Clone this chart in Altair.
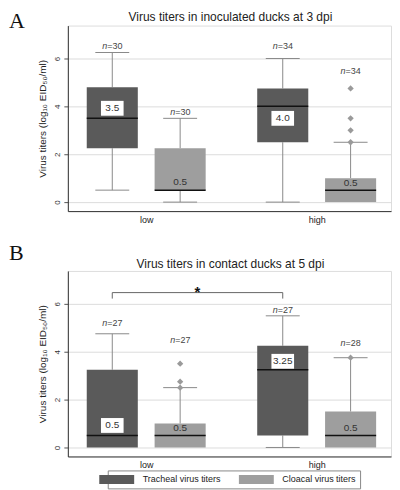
import altair as alt
import pandas as pd

# ---------------- data ----------------
GROUPS = ["low", "low", "high", "high"]
SAMPLES = ["Tracheal virus titers", "Cloacal virus titers",
           "Tracheal virus titers", "Cloacal virus titers"]

# Panel A: inoculated ducks, 3 dpi
A_LO = [0.5, 0.0, 0.0, 0.0]
A_Q1 = [2.25, 0.5, 2.5, 0.0]
A_MED = [3.5, 0.5, 4.0, 0.5]
A_Q3 = [4.8, 2.25, 4.75, 1.0]
A_HI = [6.25, 3.5, 6.0, 2.5]
A_N = [30, 30, 34, 34]
A_MED_TEXT = ["3.5", "0.5", "4.0", "0.5"]
A_OUT_IDX = [3, 3, 3, 3]
A_OUT_VAL = [2.5, 3.0, 3.5, 4.75]
A_N_AT = [6.54, 3.75, 6.54, 5.46]
A_MED_AT = [3.92, 0.83, 3.5, 0.8]

# Panel B: contact ducks, 5 dpi
B_LO = [0.0, 0.0, 0.0, 0.0]
B_Q1 = [0.0, 0.0, 0.5, 0.0]
B_MED = [0.5, 0.5, 3.25, 0.5]
B_Q3 = [3.25, 1.0, 4.25, 1.5]
B_HI = [4.75, 2.5, 5.5, 3.75]
B_N = [27, 27, 27, 28]
B_MED_TEXT = ["0.5", "0.5", "3.25", "0.5"]
B_OUT_IDX = [1, 1, 1, 3]
B_OUT_VAL = [2.5, 2.75, 3.5, 3.75]
B_N_AT = [5.22, 4.5, 5.75, 4.37]
B_MED_AT = [0.92, 0.8, 3.6, 0.83]

# significance bracket (panel B): low tracheal vs high tracheal
BRACKET_Y = 6.47
BRACKET_DROP = 0.25

# ---------------- layout constants ----------------
GROUP_X = {"low": 0.485, "high": 1.54}
SAMPLE_DX = {"Tracheal virus titers": -0.21, "Cloacal virus titers": 0.21}
BOX_HW = 0.158
CAP_HW = 0.105
LAB_HW = 0.07
LAB_HH = 0.31

DARK = "#5a5a5a"
LIGHT = "#9e9e9e"
WHISK = "#8a8a8a"
FONT = "Liberation Sans"

W, H = 324, 186
YDOM = [-0.375, 7.375]

xscale = alt.Scale(domain=[0, 2], nice=False, zero=False)
yscale = alt.Scale(domain=YDOM, nice=False, zero=False)
xaxis = alt.Axis(values=[GROUP_X["low"], GROUP_X["high"]],
                 labelExpr="datum.value < 1 ? 'low' : 'high'",
                 ticks=False, grid=False, title=None, labelFontSize=9,
                 labelPadding=4, domainColor="#333", labelColor="#222",
                 labelFont=FONT)
yaxis = alt.Axis(values=[0, 2, 4, 6], title="Virus titers (log₁₀ EID₅₀/ml)",
                 labelAngle=270, labelFontSize=8, labelColor="#333",
                 tickSize=4, tickColor="#555", domainColor="#333",
                 gridColor="#dcdcdc", titleFontSize=10, titleFont=FONT,
                 titleFontWeight="normal", titleColor="#222", titlePadding=6,
                 labelPadding=2, labelFont=FONT)


def X(field):
    return alt.X(field, type="quantitative", scale=xscale, axis=xaxis)


def Y(field):
    return alt.Y(field, type="quantitative", scale=yscale, axis=yaxis)


def panel(title, letter, letter_y, title_y, lo, q1, med, q3, hi, n, med_text,
          out_idx, out_val, n_at, med_at, legend, bracket):
    df = pd.DataFrame({"group": GROUPS, "sample": SAMPLES, "lo": lo, "q1": q1,
                       "med": med, "q3": q3, "hi": hi, "n": n,
                       "medtext": med_text, "nat": n_at, "medat": med_at})
    df["x"] = [GROUP_X[g] + SAMPLE_DX[s] for g, s in zip(GROUPS, SAMPLES)]
    df["bx0"] = df["x"] - BOX_HW
    df["bx1"] = df["x"] + BOX_HW
    df["cx0"] = df["x"] - CAP_HW
    df["cx1"] = df["x"] + CAP_HW
    df["lx0"] = df["x"] - LAB_HW
    df["lx1"] = df["x"] + LAB_HW
    df["ly0"] = df["medat"] - LAB_HH
    df["ly1"] = df["medat"] + LAB_HH
    df["ntext"] = ["=" + str(v) for v in n]
    df["istrach"] = df["sample"] == "Tracheal virus titers"

    outs = pd.DataFrame({"x": [df["x"][i] for i in out_idx], "v": out_val})

    base = alt.Chart(df)
    whisk_up = base.mark_rule(color=WHISK, strokeWidth=1).encode(
        x=X("x"), y=Y("hi"), y2="q3")
    whisk_lo = base.mark_rule(color=WHISK, strokeWidth=1).encode(
        x=X("x"), y=Y("lo"), y2="q1").transform_filter("datum.lo < datum.q1")
    cap_up = base.mark_rule(color=WHISK, strokeWidth=1).encode(
        x=X("cx0"), x2="cx1", y=Y("hi"))
    cap_lo = base.mark_rule(color=WHISK, strokeWidth=1).encode(
        x=X("cx0"), x2="cx1", y=Y("lo")).transform_filter("datum.lo < datum.q1")
    color = alt.Color("sample:N",
                      scale=alt.Scale(domain=["Tracheal virus titers", "Cloacal virus titers"],
                                      range=[DARK, LIGHT]),
                      legend=legend)
    box = base.mark_rect(opacity=1).encode(
        x=X("bx0"), x2="bx1", y=Y("q1"), y2="q3", color=color)
    median = base.mark_rule(color="#111", strokeWidth=1.5).encode(
        x=X("bx0"), x2="bx1", y=Y("med"))
    labbox = base.mark_rect(color="white").encode(
        x=X("lx0"), x2="lx1", y=Y("ly0"), y2="ly1").transform_filter("datum.istrach")
    labtxt = base.mark_text(fontSize=10, color="#333", font=FONT,
                            baseline="middle").encode(
        x=X("x"), y=Y("medat"), text="medtext:N")
    n_it = base.mark_text(fontSize=9, color="#444", font=FONT, fontStyle="italic",
                          align="right", dx=-5, baseline="middle").encode(
        x=X("x"), y=Y("nat"), text=alt.value("n"))
    n_eq = base.mark_text(fontSize=9, color="#444", font=FONT,
                          align="left", dx=-5, baseline="middle").encode(
        x=X("x"), y=Y("nat"), text="ntext:N")
    pts = alt.Chart(outs).mark_point(shape="diamond", filled=True, color="#9a9a9a",
                                     opacity=1, size=40).encode(x=X("x"), y=Y("v"))
    head = pd.DataFrame({"t": [letter], "title": [title]})
    let = alt.Chart(head).mark_text(
        font="Liberation Serif", fontSize=22, align="left", baseline="middle",
        color="#111").encode(x=alt.value(-59), y=alt.value(letter_y), text="t:N")
    ttl = alt.Chart(head).mark_text(
        font=FONT, fontSize=12, align="center", baseline="middle",
        color="#222").encode(x=alt.value(W / 2 + 1), y=alt.value(title_y), text="title:N")

    layers = [whisk_up, whisk_lo, box, median, cap_up, cap_lo, pts, labbox,
              labtxt, n_it, n_eq, let, ttl]

    if bracket:
        x_from = GROUP_X["low"] + SAMPLE_DX["Tracheal virus titers"]
        x_to = GROUP_X["high"] + SAMPLE_DX["Tracheal virus titers"]
        br = pd.DataFrame({"x0": [x_from], "x1": [x_to], "y": [BRACKET_Y],
                           "yd": [BRACKET_Y - BRACKET_DROP],
                           "xm": [(x_from + x_to) / 2], "s": ["*"]})
        bb = alt.Chart(br)
        layers += [
            bb.mark_rule(color="#666").encode(x=X("x0"), x2="x1", y=Y("y")),
            bb.mark_rule(color="#666").encode(x=X("x0"), y=Y("y"), y2="yd"),
            bb.mark_rule(color="#666").encode(x=X("x1"), y=Y("y"), y2="yd"),
            bb.mark_text(fontSize=15, fontWeight="bold", color="#111",
                         baseline="middle", dy=-1).encode(
                x=X("xm"), y=Y("y"), text="s:N"),
        ]

    return alt.layer(*layers).properties(width=W, height=H)


legend_b = alt.Legend(orient="none", legendX=40, legendY=200, direction="horizontal",
                      title=None, symbolType="M-3.5,-0.9H3.5V0.9H-3.5Z",
                      symbolSize=100, symbolStrokeWidth=0, symbolOpacity=1,
                      labelFontSize=9, labelFont=FONT, labelColor="#222",
                      labelOffset=21, columnPadding=17, strokeColor="#888",
                      padding=4)

pa = panel("Virus titers in inoculated ducks at 3 dpi", "A", -5, -9,
           A_LO, A_Q1, A_MED, A_Q3, A_HI, A_N, A_MED_TEXT,
           A_OUT_IDX, A_OUT_VAL, A_N_AT, A_MED_AT, None, False)
pb = panel("Virus titers in contact ducks at 5 dpi", "B", -18, -7,
           B_LO, B_Q1, B_MED, B_Q3, B_HI, B_N, B_MED_TEXT,
           B_OUT_IDX, B_OUT_VAL, B_N_AT, B_MED_AT, legend_b, True)

chart = alt.vconcat(pa, pb, spacing=16).resolve_scale(color="independent").properties(
    padding=0
).configure_view(stroke="#b0b0b0", strokeWidth=1).configure(font=FONT)

chart.save("out.html", embed_options={"renderer": "svg", "actions": False})
